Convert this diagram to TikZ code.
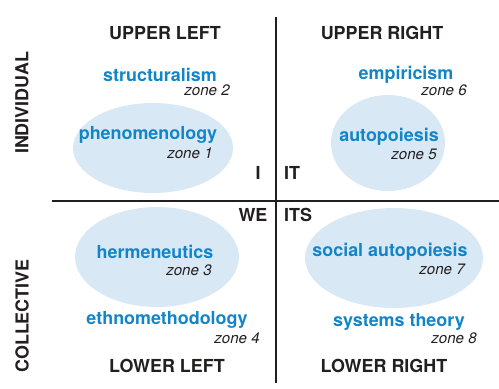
\documentclass[tikz,border=0pt]{standalone}
\usepackage{fontspec}
\setmainfont{TeX Gyre Heros}
\definecolor{zoneblue}{RGB}{18,133,200}
\definecolor{zonefill}{RGB}{216,233,245}
\definecolor{inkgray}{RGB}{35,31,32}

\begin{document}
\begin{tikzpicture}[x=0.02cm,y=-0.02cm]

\tikzset{quad/.style = {text=inkgray,font=\fontsize{10.2}{12}\selectfont\bfseries,inner sep=0pt}}
\tikzset{theory/.style = {text=zoneblue,font=\fontsize{10.2}{12}\selectfont\bfseries,inner sep=0pt}}
\tikzset{zone/.style = {text=inkgray,font=\fontsize{8.6}{10}\selectfont\itshape,anchor=east,inner sep=0pt}}
\tikzset{blob/.style = {fill=zonefill,draw=none}}
\tikzset{axis/.style = {draw=inkgray,line width=0.8pt}}

\useasboundingbox (0,0) rectangle (499,388);

% ellipses
\fill[blob] (153,148) ellipse [x radius=80,y radius=45];
\fill[blob] (388,143) ellipse [x radius=57,y radius=48];
\fill[blob] (157,257) ellipse [x radius=82,y radius=50];
\fill[blob] (394,258) ellipse [x radius=89,y radius=50];

% axes
\coordinate (top) at (276,17);
\coordinate (bottom) at (276,383);
\coordinate (left) at (52,201);
\coordinate (right) at (499,201);
\draw[axis] (top) -- (bottom);
\draw[axis] (left) -- (right);

% quadrant titles
\node[quad] (ul) at (165,33) {UPPER LEFT};
\node[quad] (ur) at (382,33) {UPPER RIGHT};
\node[quad] (ll) at (167,366) {LOWER LEFT};
\node[quad] (lr) at (384,366) {LOWER RIGHT};
\node[quad,rotate=90] (ind) at (22,103) {INDIVIDUAL};
\node[quad,rotate=90] (col) at (22,316) {COLLECTIVE};

\node[quad] (i) at (258,173) {I};
\node[quad] (it) at (292,173) {IT};
\node[quad] (we) at (253,215) {WE};
\node[quad] (its) at (298,215) {ITS};

% theories
\node[theory] (struct) at (160,75) {structuralism};
\node[zone] (z2) at (230,90) {zone 2};
\node[theory] (phen) at (148,135) {phenomenology};
\node[zone] (z1) at (213,153) {zone 1};

\node[theory] (emp) at (406,75) {empiricism};
\node[zone] (z6) at (467,90) {zone 6};
\node[theory] (auto) at (389,137) {autopoiesis};
\node[zone] (z5) at (437,154) {zone 5};

\node[theory] (herm) at (155,252) {hermeneutics};
\node[zone] (z3) at (212,270) {zone 3};
\node[theory] (ethno) at (167,320) {ethnomethodology};
\node[zone] (z4) at (260,338) {zone 4};

\node[theory] (soc) at (390,252) {social autopoiesis};
\node[zone] (z7) at (465,269) {zone 7};
\node[theory] (sys) at (399,322) {systems theory};
\node[zone] (z8) at (477,338) {zone 8};

\end{tikzpicture}
\end{document}
